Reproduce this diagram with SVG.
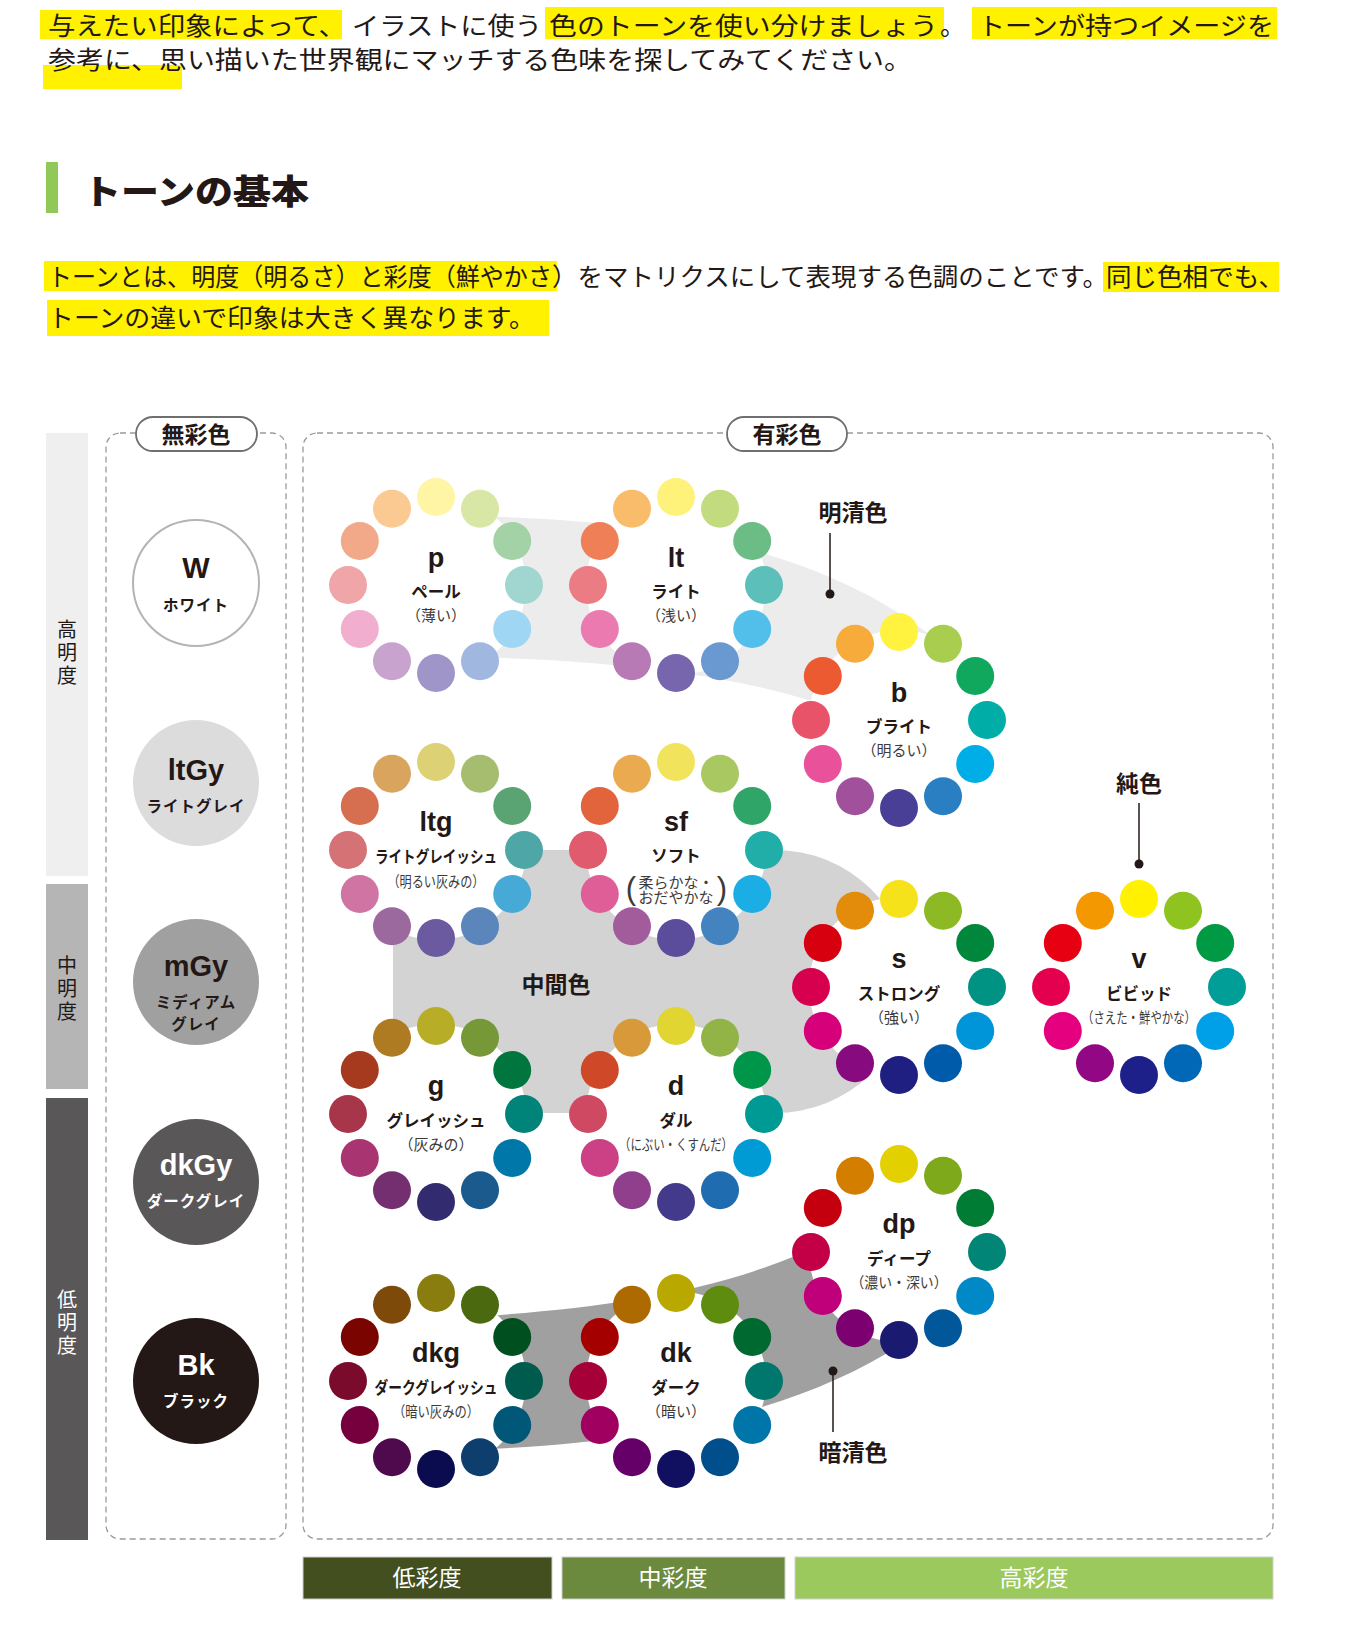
<svg xmlns="http://www.w3.org/2000/svg" width="1351" height="1635" viewBox="0 0 1351 1635">
<style>
.body{font-family:"Noto Sans CJK JP","Noto Sans",sans-serif;font-size:25px;fill:#231815;}
.hl{fill:#fff100;}
.ab{font-family:"Liberation Sans",Arial,sans-serif;font-weight:bold;font-size:27px;fill:#231815;text-anchor:middle;}
.nm{font-family:"Noto Sans CJK JP",sans-serif;font-weight:bold;font-size:16.5px;fill:#231815;text-anchor:middle;}
.sb{font-family:"Noto Sans CJK JP",sans-serif;font-size:15px;fill:#3e3a39;text-anchor:middle;}
.par{font-family:"Liberation Sans",Arial,sans-serif;font-size:31px;fill:#3e3a39;text-anchor:middle;}
.disc{fill:#fff;}
.lbl{font-family:"Noto Sans CJK JP",sans-serif;font-weight:bold;font-size:23px;fill:#231815;text-anchor:middle;}
.dash{fill:none;stroke:#9a9a9a;stroke-width:1.3;stroke-dasharray:6 4;}
.pill{fill:#fff;stroke:#6f6f6f;stroke-width:1.8;}
.lead{stroke:#231815;stroke-width:1.5;fill:none;}
.bar{font-family:"Noto Sans CJK JP",sans-serif;font-size:23px;text-anchor:middle;}
.vbar{font-family:"Noto Sans CJK JP",sans-serif;font-size:20px;writing-mode:vertical-rl;letter-spacing:3px;}
.gab{font-family:"Liberation Sans",Arial,sans-serif;font-weight:bold;font-size:29px;text-anchor:middle;}
.gnm{font-family:"Noto Sans CJK JP",sans-serif;font-weight:bold;font-size:15.5px;text-anchor:middle;letter-spacing:1px;}
</style>
<rect width="1351" height="1635" fill="#fff"/>

<!-- intro text -->
<g id="intro">
<rect class="hl" x="40" y="10" width="302" height="29"/>
<rect class="hl" x="545" y="7" width="399" height="32"/>
<rect class="hl" x="972" y="7" width="305" height="32"/>
<rect class="hl" x="43" y="65" width="139" height="24"/>
<text class="body" x="48" y="35" font-size="26" textLength="298" lengthAdjust="spacingAndGlyphs">与えたい印象によって、</text>
<text class="body" x="352" y="35" font-size="26" textLength="190" lengthAdjust="spacingAndGlyphs">イラストに使う</text>
<text class="body" x="549" y="35" font-size="26" textLength="389" lengthAdjust="spacingAndGlyphs">色のトーンを使い分けましょう</text>
<text class="body" x="940" y="35" font-size="26">。</text>
<text class="body" x="978" y="35" font-size="26" textLength="296" lengthAdjust="spacingAndGlyphs">トーンが持つイメージを</text>
<text class="body" x="48" y="69" font-size="26" textLength="864" lengthAdjust="spacingAndGlyphs">参考に、思い描いた世界観にマッチする色味を探してみてください。</text>
</g>

<g id="heading">
<rect x="46" y="162" width="12" height="51" fill="#91c958"/>
<text x="83" y="204" font-family="'Noto Sans CJK JP',sans-serif" font-weight="900" font-size="34" fill="#231815" textLength="226" lengthAdjust="spacingAndGlyphs">トーンの基本</text>
</g>

<g id="para">
<rect class="hl" x="44" y="261" width="513" height="30"/>
<rect class="hl" x="1103" y="262" width="176" height="30"/>
<rect class="hl" x="47" y="300" width="502" height="36"/>
<text class="body" x="48" y="286" font-size="24" textLength="504" lengthAdjust="spacingAndGlyphs">トーンとは、明度（明るさ）と彩度（鮮やかさ</text>
<text class="body" x="552" y="286" font-size="24" textLength="556" lengthAdjust="spacingAndGlyphs">）をマトリクスにして表現する色調のことです。</text>
<text class="body" x="1106" y="286" font-size="24" textLength="178" lengthAdjust="spacingAndGlyphs">同じ色相でも、</text>
<text class="body" x="48" y="327" font-size="24" textLength="487" lengthAdjust="spacingAndGlyphs">トーンの違いで印象は大きく異なります。</text>
</g>

<!-- lightness bars -->
<g id="lightness">
<rect x="46" y="433" width="42" height="443" fill="#efefef"/>
<rect x="46" y="884" width="42" height="205" fill="#b5b5b5"/>
<rect x="46" y="1098" width="42" height="442" fill="#595757"/>
<text class="vbar" x="67" y="619" fill="#231815">高明度</text>
<text class="vbar" x="67" y="955" fill="#231815">中明度</text>
<text class="vbar" x="67" y="1289" fill="#fff">低明度</text>
</g>

<!-- saturation bars -->
<g id="saturation">
<rect x="303" y="1557" width="249" height="42" fill="#434f1f" stroke="#cfcfcf" stroke-width="1"/>
<rect x="562" y="1557" width="223" height="42" fill="#6b8a3e" stroke="#cfcfcf" stroke-width="1"/>
<rect x="795" y="1557" width="478" height="42" fill="#9bc95e" stroke="#cfcfcf" stroke-width="1"/>
<text class="bar" x="427" y="1586" fill="#fff">低彩度</text>
<text class="bar" x="673" y="1586" fill="#fff">中彩度</text>
<text class="bar" x="1034" y="1586" fill="#fff">高彩度</text>
</g>

<!-- frames -->
<g id="frames">
<rect class="dash" x="106" y="433" width="180" height="1106" rx="14"/>
<rect class="dash" x="303" y="433" width="970" height="1106" rx="14"/>
<rect class="pill" x="136" y="417" width="121" height="34" rx="17"/>
<text class="lbl" x="196" y="443">無彩色</text>
<rect class="pill" x="727" y="417" width="120" height="34" rx="17"/>
<text class="lbl" x="787" y="443">有彩色</text>
</g>

<!-- achromatic -->
<g id="node-W">
<circle cx="196" cy="583" r="63" fill="#fff" stroke="#b4b4b4" stroke-width="2"/>
<text class="gab" x="196" y="578" fill="#231815">W</text>
<text class="gnm" x="196" y="611" fill="#231815">ホワイト</text>
</g>
<g id="node-ltGy">
<circle cx="196" cy="783" r="63" fill="#dcdcdc"/>
<text class="gab" x="196" y="780" fill="#231815">ltGy</text>
<text class="gnm" x="196" y="812" fill="#231815">ライトグレイ</text>
</g>
<g id="node-mGy">
<circle cx="196" cy="982" r="63" fill="#a0a0a0"/>
<text class="gab" x="196" y="976" fill="#231815">mGy</text>
<text class="gnm" fill="#231815"><tspan x="196" y="1008">ミディアム</tspan><tspan x="196" y="1030">グレイ</tspan></text>
</g>
<g id="node-dkGy">
<circle cx="196" cy="1182" r="63" fill="#595757"/>
<text class="gab" x="196" y="1175" fill="#fff">dkGy</text>
<text class="gnm" x="196" y="1207" fill="#fff">ダークグレイ</text>
</g>
<g id="node-Bk">
<circle cx="196" cy="1381" r="63" fill="#231815"/>
<text class="gab" x="196" y="1375" fill="#fff">Bk</text>
<text class="gnm" x="196" y="1407" fill="#fff">ブラック</text>
</g>

<!-- tone group bands -->
<g id="bands">
<path id="band-meisei" d="M470,516 C640,520 830,540 960,660 L899,720 L815,702 C720,672 600,660 470,657 Z" fill="#ececec"/>
<path id="band-chukan" d="M393,850 L775,850 A135,131.5 0 0 1 775,1113 L393,1113 Z" fill="#d3d3d3"/>
<path id="band-anseii" d="M460,1318 C600,1308 720,1295 830,1240 L899,1252 L900,1345 C800,1410 650,1445 460,1450 Z" fill="#a0a0a0"/>
<text class="lbl" x="556" y="993">中間色</text>
</g>

<!-- wheels -->
<g id="wheel-p" transform="translate(436,585)">
<circle class="disc" r="90"/>
<circle cx="0" cy="-88" r="19" fill="#fff5a5"/><circle cx="44" cy="-76.2" r="19" fill="#d8e6a6"/><circle cx="76.2" cy="-44" r="19" fill="#a3d2a6"/><circle cx="88" cy="0" r="19" fill="#a1d6d0"/><circle cx="76.2" cy="44" r="19" fill="#9fd6f4"/><circle cx="44" cy="76.2" r="19" fill="#a0b8e0"/><circle cx="0" cy="88" r="19" fill="#a095c8"/><circle cx="-44" cy="76.2" r="19" fill="#c7a3cd"/><circle cx="-76.2" cy="44" r="19" fill="#f2aece"/><circle cx="-88" cy="0" r="19" fill="#f0a6a8"/><circle cx="-76.2" cy="-44" r="19" fill="#f2a98a"/><circle cx="-44" cy="-76.2" r="19" fill="#fbca93"/>
<text class="ab" y="-18">p</text><text class="nm" y="13">ペール</text><text class="sb" y="36">（薄い）</text>
</g>
<g id="wheel-lt" transform="translate(676,585)">
<circle class="disc" r="90"/>
<circle cx="0" cy="-88" r="19" fill="#fff27a"/><circle cx="44" cy="-76.2" r="19" fill="#c2db7e"/><circle cx="76.2" cy="-44" r="19" fill="#6bbd85"/><circle cx="88" cy="0" r="19" fill="#5cbfb9"/><circle cx="76.2" cy="44" r="19" fill="#52bfeb"/><circle cx="44" cy="76.2" r="19" fill="#6a98d0"/><circle cx="0" cy="88" r="19" fill="#7765ad"/><circle cx="-44" cy="76.2" r="19" fill="#b77ab4"/><circle cx="-76.2" cy="44" r="19" fill="#ea7ab0"/><circle cx="-88" cy="0" r="19" fill="#ec7c84"/><circle cx="-76.2" cy="-44" r="19" fill="#ef7f56"/><circle cx="-44" cy="-76.2" r="19" fill="#f8bc6a"/>
<text class="ab" y="-18">lt</text><text class="nm" y="13">ライト</text><text class="sb" y="36">（浅い）</text>
</g>
<g id="wheel-b" transform="translate(899,720)">
<circle class="disc" r="90"/>
<circle cx="0" cy="-88" r="19" fill="#fff33f"/><circle cx="44" cy="-76.2" r="19" fill="#a9cd4e"/><circle cx="76.2" cy="-44" r="19" fill="#0fa85c"/><circle cx="88" cy="0" r="19" fill="#00ada7"/><circle cx="76.2" cy="44" r="19" fill="#00aee7"/><circle cx="44" cy="76.2" r="19" fill="#2a7fc3"/><circle cx="0" cy="88" r="19" fill="#4a3f96"/><circle cx="-44" cy="76.2" r="19" fill="#a1519c"/><circle cx="-76.2" cy="44" r="19" fill="#e9529b"/><circle cx="-88" cy="0" r="19" fill="#e85369"/><circle cx="-76.2" cy="-44" r="19" fill="#eb5a30"/><circle cx="-44" cy="-76.2" r="19" fill="#f6ab3b"/>
<text class="ab" y="-18">b</text><text class="nm" y="13">ブライト</text><text class="sb" y="36">（明るい）</text>
</g>
<g id="wheel-ltg" transform="translate(436,850)">
<circle class="disc" r="90"/>
<circle cx="0" cy="-88" r="19" fill="#dcd174"/><circle cx="44" cy="-76.2" r="19" fill="#a6bd70"/><circle cx="76.2" cy="-44" r="19" fill="#5aa474"/><circle cx="88" cy="0" r="19" fill="#4ea7a6"/><circle cx="76.2" cy="44" r="19" fill="#47a9d6"/><circle cx="44" cy="76.2" r="19" fill="#5a86bb"/><circle cx="0" cy="88" r="19" fill="#6b5aa0"/><circle cx="-44" cy="76.2" r="19" fill="#9c699f"/><circle cx="-76.2" cy="44" r="19" fill="#cf74a3"/><circle cx="-88" cy="0" r="19" fill="#d47276"/><circle cx="-76.2" cy="-44" r="19" fill="#d56f4f"/><circle cx="-44" cy="-76.2" r="19" fill="#d9a55e"/>
<text class="ab" y="-19">ltg</text><text class="nm" y="13" textLength="122" lengthAdjust="spacingAndGlyphs">ライトグレイッシュ</text><text class="sb" y="37" textLength="97" lengthAdjust="spacingAndGlyphs">（明るい灰みの）</text>
</g>
<g id="wheel-sf" transform="translate(676,850)">
<circle class="disc" r="90"/>
<circle cx="0" cy="-88" r="19" fill="#f1e45c"/><circle cx="44" cy="-76.2" r="19" fill="#a9c862"/><circle cx="76.2" cy="-44" r="19" fill="#2fa668"/><circle cx="88" cy="0" r="19" fill="#22aea8"/><circle cx="76.2" cy="44" r="19" fill="#1aaee4"/><circle cx="44" cy="76.2" r="19" fill="#4383bf"/><circle cx="0" cy="88" r="19" fill="#5c4c9c"/><circle cx="-44" cy="76.2" r="19" fill="#a25b9b"/><circle cx="-76.2" cy="44" r="19" fill="#e05e98"/><circle cx="-88" cy="0" r="19" fill="#e05b6d"/><circle cx="-76.2" cy="-44" r="19" fill="#e2643c"/><circle cx="-44" cy="-76.2" r="19" fill="#eaab50"/>
<text class="ab" y="-19">sf</text><text class="nm" y="12">ソフト</text>
<text class="sb" font-size="13"><tspan x="0" y="38">柔らかな・</tspan><tspan x="0" y="53">おだやかな</tspan></text>
<text class="par" x="-45" y="49">(</text><text class="par" x="46" y="49">)</text>
</g>
<g id="wheel-s" transform="translate(899,987)">
<circle class="disc" r="90"/>
<circle cx="0" cy="-88" r="19" fill="#f5e21a"/><circle cx="44" cy="-76.2" r="19" fill="#8dba24"/><circle cx="76.2" cy="-44" r="19" fill="#00873c"/><circle cx="88" cy="0" r="19" fill="#009384"/><circle cx="76.2" cy="44" r="19" fill="#0095d9"/><circle cx="44" cy="76.2" r="19" fill="#005caa"/><circle cx="0" cy="88" r="19" fill="#1e1f80"/><circle cx="-44" cy="76.2" r="19" fill="#870b7f"/><circle cx="-76.2" cy="44" r="19" fill="#d6007a"/><circle cx="-88" cy="0" r="19" fill="#d6004f"/><circle cx="-76.2" cy="-44" r="19" fill="#d7000f"/><circle cx="-44" cy="-76.2" r="19" fill="#e38b0a"/>
<text class="ab" y="-19">s</text><text class="nm" y="13">ストロング</text><text class="sb" y="36">（強い）</text>
</g>
<g id="wheel-v" transform="translate(1139,987)">
<circle class="disc" r="90"/>
<circle cx="0" cy="-88" r="19" fill="#fff100"/><circle cx="44" cy="-76.2" r="19" fill="#8fc31f"/><circle cx="76.2" cy="-44" r="19" fill="#009944"/><circle cx="88" cy="0" r="19" fill="#009e96"/><circle cx="76.2" cy="44" r="19" fill="#00a0e9"/><circle cx="44" cy="76.2" r="19" fill="#0068b7"/><circle cx="0" cy="88" r="19" fill="#1d2088"/><circle cx="-44" cy="76.2" r="19" fill="#920783"/><circle cx="-76.2" cy="44" r="19" fill="#e4007f"/><circle cx="-88" cy="0" r="19" fill="#e5004f"/><circle cx="-76.2" cy="-44" r="19" fill="#e60012"/><circle cx="-44" cy="-76.2" r="19" fill="#f39800"/>
<text class="ab" y="-19">v</text><text class="nm" y="13">ビビッド</text><text class="sb" y="36" textLength="114" lengthAdjust="spacingAndGlyphs">（さえた・鮮やかな）</text>
</g>
<g id="wheel-g" transform="translate(436,1114)">
<circle class="disc" r="90"/>
<circle cx="0" cy="-88" r="19" fill="#b7ad26"/><circle cx="44" cy="-76.2" r="19" fill="#769837"/><circle cx="76.2" cy="-44" r="19" fill="#00763e"/><circle cx="88" cy="0" r="19" fill="#008378"/><circle cx="76.2" cy="44" r="19" fill="#0077a9"/><circle cx="44" cy="76.2" r="19" fill="#1a5a8d"/><circle cx="0" cy="88" r="19" fill="#332b70"/><circle cx="-44" cy="76.2" r="19" fill="#742f70"/><circle cx="-76.2" cy="44" r="19" fill="#a83572"/><circle cx="-88" cy="0" r="19" fill="#a8364b"/><circle cx="-76.2" cy="-44" r="19" fill="#a53a1e"/><circle cx="-44" cy="-76.2" r="19" fill="#ae7b22"/>
<text class="ab" y="-19">g</text><text class="nm" y="13">グレイッシュ</text><text class="sb" y="36">（灰みの）</text>
</g>
<g id="wheel-d" transform="translate(676,1114)">
<circle class="disc" r="90"/>
<circle cx="0" cy="-88" r="19" fill="#e1d531"/><circle cx="44" cy="-76.2" r="19" fill="#92b447"/><circle cx="76.2" cy="-44" r="19" fill="#009649"/><circle cx="88" cy="0" r="19" fill="#009a95"/><circle cx="76.2" cy="44" r="19" fill="#009bd4"/><circle cx="44" cy="76.2" r="19" fill="#1f6db0"/><circle cx="0" cy="88" r="19" fill="#443a8b"/><circle cx="-44" cy="76.2" r="19" fill="#8f3f8c"/><circle cx="-76.2" cy="44" r="19" fill="#cc4186"/><circle cx="-88" cy="0" r="19" fill="#cf4962"/><circle cx="-76.2" cy="-44" r="19" fill="#cf4827"/><circle cx="-44" cy="-76.2" r="19" fill="#d8993b"/>
<text class="ab" y="-19">d</text><text class="nm" y="13">ダル</text><text class="sb" y="36" textLength="114" lengthAdjust="spacingAndGlyphs">（にぶい・くすんだ）</text>
</g>
<g id="wheel-dp" transform="translate(899,1252)">
<circle class="disc" r="90"/>
<circle cx="0" cy="-88" r="19" fill="#e3d000"/><circle cx="44" cy="-76.2" r="19" fill="#7ea91b"/><circle cx="76.2" cy="-44" r="19" fill="#007c35"/><circle cx="88" cy="0" r="19" fill="#008577"/><circle cx="76.2" cy="44" r="19" fill="#0089c6"/><circle cx="44" cy="76.2" r="19" fill="#005799"/><circle cx="0" cy="88" r="19" fill="#191a70"/><circle cx="-44" cy="76.2" r="19" fill="#7c0070"/><circle cx="-76.2" cy="44" r="19" fill="#c0007a"/><circle cx="-88" cy="0" r="19" fill="#c30045"/><circle cx="-76.2" cy="-44" r="19" fill="#c4000f"/><circle cx="-44" cy="-76.2" r="19" fill="#d47e00"/>
<text class="ab" y="-19">dp</text><text class="nm" y="13">ディープ</text><text class="sb" y="36" textLength="97" lengthAdjust="spacingAndGlyphs">（濃い・深い）</text>
</g>
<g id="wheel-dkg" transform="translate(436,1381)">
<circle class="disc" r="90"/>
<circle cx="0" cy="-88" r="19" fill="#8a7d0f"/><circle cx="44" cy="-76.2" r="19" fill="#4b6a10"/><circle cx="76.2" cy="-44" r="19" fill="#00501f"/><circle cx="88" cy="0" r="19" fill="#005b4f"/><circle cx="76.2" cy="44" r="19" fill="#005778"/><circle cx="44" cy="76.2" r="19" fill="#0d3e6e"/><circle cx="0" cy="88" r="19" fill="#0b0b4f"/><circle cx="-44" cy="76.2" r="19" fill="#4e0a4c"/><circle cx="-76.2" cy="44" r="19" fill="#76003e"/><circle cx="-88" cy="0" r="19" fill="#7b0b2c"/><circle cx="-76.2" cy="-44" r="19" fill="#7a0500"/><circle cx="-44" cy="-76.2" r="19" fill="#7e4a0a"/>
<text class="ab" y="-19">dkg</text><text class="nm" y="13" textLength="123" lengthAdjust="spacingAndGlyphs">ダークグレイッシュ</text><text class="sb" y="36" textLength="86" lengthAdjust="spacingAndGlyphs">（暗い灰みの）</text>
</g>
<g id="wheel-dk" transform="translate(676,1381)">
<circle class="disc" r="90"/>
<circle cx="0" cy="-88" r="19" fill="#b9a800"/><circle cx="44" cy="-76.2" r="19" fill="#5d8c0f"/><circle cx="76.2" cy="-44" r="19" fill="#00692f"/><circle cx="88" cy="0" r="19" fill="#00776c"/><circle cx="76.2" cy="44" r="19" fill="#0075a9"/><circle cx="44" cy="76.2" r="19" fill="#004f8c"/><circle cx="0" cy="88" r="19" fill="#110f5f"/><circle cx="-44" cy="76.2" r="19" fill="#650069"/><circle cx="-76.2" cy="44" r="19" fill="#a0005f"/><circle cx="-88" cy="0" r="19" fill="#a50038"/><circle cx="-76.2" cy="-44" r="19" fill="#a50000"/><circle cx="-44" cy="-76.2" r="19" fill="#ad6a00"/>
<text class="ab" y="-19">dk</text><text class="nm" y="13">ダーク</text><text class="sb" y="36">（暗い）</text>
</g>

<!-- leader connectors -->
<g id="connectors">
<line class="lead" x1="830" y1="533" x2="830" y2="594"/><circle cx="830" cy="594" r="4.5" fill="#231815"/>
<line class="lead" x1="1139" y1="803" x2="1139" y2="864"/><circle cx="1139" cy="864" r="4.5" fill="#231815"/>
<line class="lead" x1="833" y1="1371" x2="833" y2="1432"/><circle cx="833" cy="1371" r="4.5" fill="#231815"/>
</g>
<g id="group-labels">
<text class="lbl" x="853" y="521">明清色</text>
<text class="lbl" x="1139" y="792">純色</text>
<text class="lbl" x="853" y="1461">暗清色</text>
</g>
</svg>
